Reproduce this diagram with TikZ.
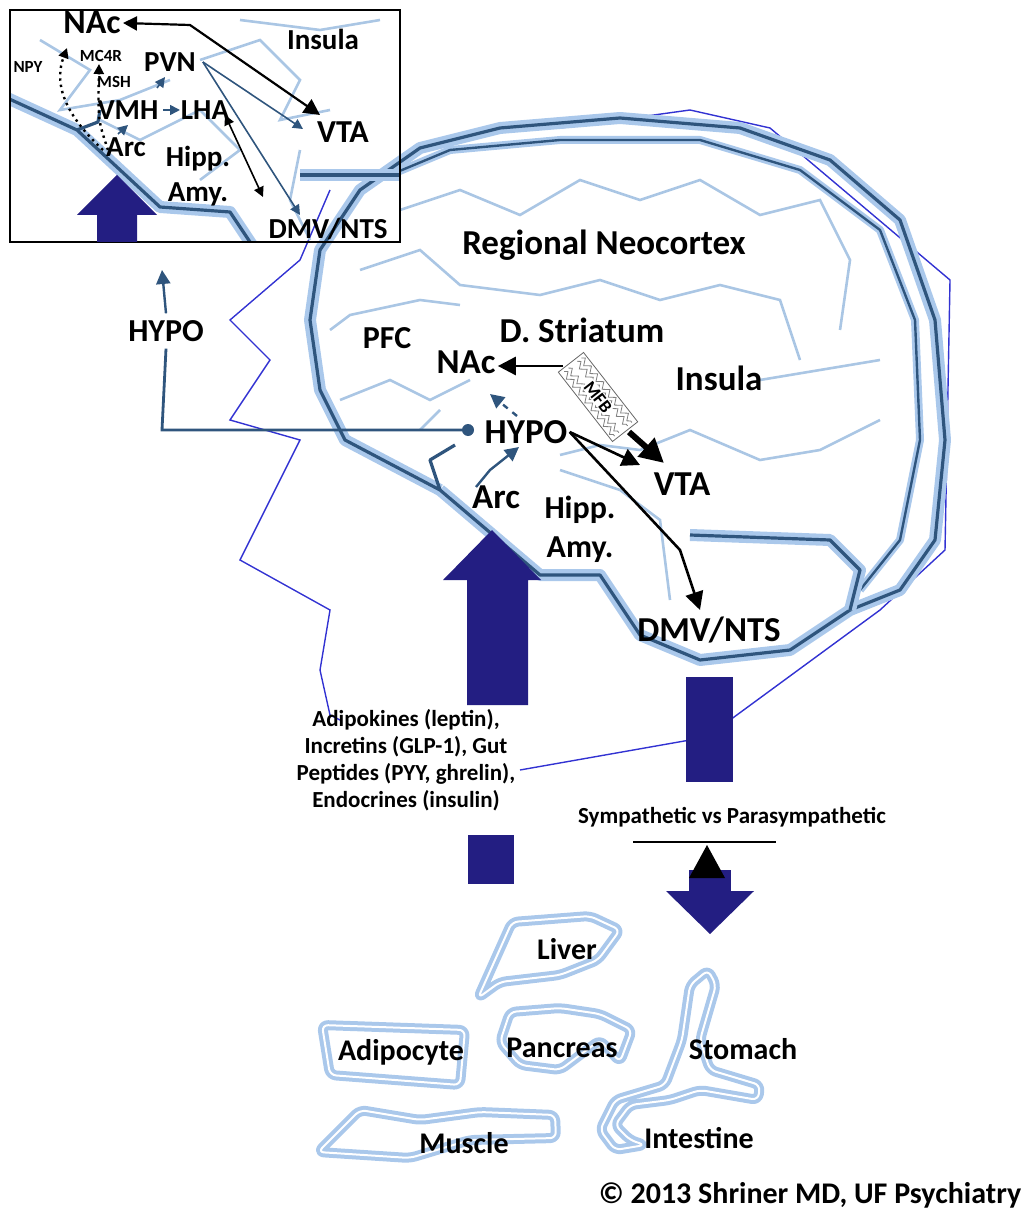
\documentclass[tikz,border=0pt]{standalone}
\usepackage{fontspec}
\setmainfont{Carlito}
\usetikzlibrary{arrows.meta,decorations.pathmorphing}
\definecolor{brain}{RGB}{47,85,125}
\definecolor{glow}{RGB}{170,200,235}
\definecolor{gyri}{RGB}{170,198,228}
\definecolor{navy}{RGB}{35,30,130}
\definecolor{face}{RGB}{50,50,210}
\begin{document}
\begin{tikzpicture}[x=0.5pt,y=-0.5pt,
  lbl/.style={font=\bfseries\fontsize{17.5}{19}\selectfont},
  mid/.style={font=\bfseries\fontsize{16}{17}\selectfont},
  org/.style={font=\bfseries\fontsize{15}{16}\selectfont},
  ins/.style={font=\bfseries\fontsize{14.5}{15}\selectfont},
  small/.style={font=\bfseries\fontsize{11.5}{13.5}\selectfont,align=center},
  tiny/.style={font=\bfseries\fontsize{8.5}{9}\selectfont},
  outline/.style={draw=glow,line width=6pt,line join=round},
  outcore/.style={draw=brain,line width=1.6pt,line join=round},
  gy/.style={draw=gyri,line width=1.3pt},
  organ/.style={draw=glow,line width=5pt,line join=round,rounded corners=3},
  organc/.style={draw=white,line width=1pt,line join=round,rounded corners=3},
  blk/.style={-{Triangle[length=9,width=9]},line width=1.4pt,black},
  bl/.style={-{Triangle[length=7,width=7]},line width=1.2pt,brain},
  big/.style={fill=navy,draw=none}]
\useasboundingbox (0,0) rectangle (1024,1219);
% face outline (thin)
\draw[face,line width=0.7pt] (330,190) -- (300,260) -- (230,320) -- (270,360) -- (230,420) -- (300,440) -- (240,560) -- (330,610) -- (320,670) -- (330,715) -- (340,720);
\draw[face,line width=0.7pt] (520,770) -- (690,740);
\draw[face,line width=0.7pt] (560,128) -- (690,110) -- (770,128) -- (950,280) -- (945,550) -- (880,610) -- (730,720);
% brain outer outline
\def\brainpath{(440,490) -- (540,575) -- (600,575) -- (640,635) -- (700,660) -- (790,650) -- (850,610) -- (900,590) -- (935,540) -- (945,440) -- (935,320) -- (900,220) -- (830,160) -- (740,128) -- (620,118) -- (500,128) -- (420,148) -- (360,190) -- (320,250) -- (310,320) -- (320,390) -- (345,440) -- (440,490)}
\draw[outline] \brainpath;
\draw[outcore] \brainpath;
% inner line of cortex
\draw[outline,line width=4pt] (390,175) -- (450,150) -- (560,140) -- (700,140) -- (800,170) -- (880,230) -- (915,320) -- (920,440) -- (900,540) -- (860,590);
\draw[outcore,line width=1.2pt] (390,175) -- (450,150) -- (560,140) -- (700,140) -- (800,170) -- (880,230) -- (915,320) -- (920,440) -- (900,540) -- (860,590);
% cerebellum line
\draw[outline] (690,535) -- (830,540) -- (860,570) -- (850,610);
\draw[outcore] (690,535) -- (830,540) -- (860,570) -- (850,610);
\draw[outcore] (455,445) -- (430,460) -- (440,490);
% gyri
\draw[gy] (400,210) -- (460,190) -- (520,215) -- (580,180) -- (640,200) -- (700,180) -- (760,215) -- (820,200) -- (850,260) -- (840,330);
\draw[gy] (360,270) -- (420,250) -- (460,285) -- (540,295) -- (600,280) -- (660,300) -- (720,285) -- (780,300) -- (800,360);
\draw[gy] (330,330) -- (350,315) -- (420,300) -- (460,305);
\draw[gy] (340,400) -- (390,380) -- (430,400) -- (470,380);
\draw[gy] (420,430) -- (440,410);
\draw[gy] (560,455) -- (600,445) -- (640,450) -- (690,430) -- (760,460) -- (820,450) -- (880,420);
\draw[gy] (560,470) -- (620,490) -- (660,520) -- (670,600);
\draw[gy] (760,380) -- (820,370) -- (880,360);
% inset box
\begin{scope}
\clip (10,10) rectangle (400,242);
\draw[gy] (40,40) -- (90,70) -- (60,110) -- (120,100) -- (170,80);
\draw[gy] (200,60) -- (260,40) -- (300,80) -- (280,120) -- (330,110);
\draw[gy] (100,120) -- (140,140) -- (200,110) -- (240,150) -- (200,180);
\draw[gy] (240,20) -- (320,30) -- (380,20);
\draw[gy] (300,150) -- (290,200) -- (310,240);
\draw[outline] (5,97) -- (77,130) -- (160,207) -- (230,212) -- (252,245);
\draw[outcore] (5,97) -- (77,130) -- (160,207) -- (230,212) -- (252,245);
\draw[outline] (300,175) -- (400,175);
\draw[outcore] (300,175) -- (400,175);
\draw[outcore] (77,130) -- (98,122) -- (100,110);
\end{scope}
\draw[black,line width=1pt] (10,10) rectangle (400,242);
\fill[big] (77,215) -- (117,175) -- (157,215) -- (137,215) -- (137,242) -- (97,242) -- (97,215) -- cycle;
% inset labels
\node[font=\bfseries\fontsize{17}{18}\selectfont,inner sep=1pt] (iNAc) at (92,23) {NAc};
\node[ins] (iIns) at (323,39) {Insula};
\node[tiny] (iNPY) at (28,67) {NPY};
\node[tiny] (iMC4R) at (101,56) {MC4R};
\node[tiny] (iMSH) at (114,82) {MSH};
\node[ins] (iPVN) at (170,62) {PVN};
\node[ins] (iVMH) at (128,110) {VMH};
\node[ins] (iLHA) at (205,110) {LHA};
\node[font=\bfseries\fontsize{16}{17}\selectfont] (iVTA) at (343,132) {VTA};
\node[ins] (iArc) at (126,147) {Arc};
\node[ins] (iHipp) at (198,159) {Hipp.};
\node[ins] (iAmy) at (198,194) {Amy.};
\node[ins] (iDMV) at (328,229) {DMV/NTS};
\coordinate (iNb) at (190,25);
\draw[line width=1.1pt,{Triangle[length=7,width=7]}-{Triangle[length=8,width=8]}] (iNAc.east) -- (iNb) -- (320,115);
\draw[brain,line width=0.8pt,-{Triangle[length=5,width=5]}] (iPVN.east) -- (303,129);
\draw[brain,line width=0.8pt,-{Triangle[length=5,width=5]}] (iPVN.east) -- (300,215);
\draw[line width=0.8pt,{Triangle[length=5,width=5]}-{Triangle[length=5,width=5]}] (225,115) -- (263,197);
\draw[brain,line width=0.8pt,-{Triangle[length=5,width=5]}] (157,88) -- (165,77);
\draw[brain,line width=0.8pt,-{Triangle[length=5,width=5]}] (163,110) -- (180,110);
\draw[brain,line width=0.8pt,-{Triangle[length=5,width=5]}] (118,134) -- (128,125);
\draw[line width=1.2pt,dotted,-{Triangle[length=5,width=5]}] (108,150) .. controls (98,120) .. (99,64);
\draw[line width=1.2pt,dotted,-{Triangle[length=5,width=5]}] (103,150) .. controls (60,110) and (55,80) .. (67,48);
% HYPO link
\node[mid] (hypoL) at (166,331) {HYPO};
\coordinate (hArrowTop) at (162,270);
\draw[bl] (hypoL.north) -- (hArrowTop);
\coordinate (hc) at (162,430);
% main labels
\node[lbl] (RN) at (604,245) {Regional Neocortex};
\node[mid] (PFC) at (387,338) {PFC};
\node[lbl] (DS) at (582,330) {D. Striatum};
\node[lbl,inner sep=1pt] (NAc) at (466,362) {NAc};
\node[lbl] (Ins) at (719,378) {Insula};
\node[lbl,inner sep=1pt] (HYPO) at (526,432) {HYPO};
\node[lbl] (VTA) at (682,484) {VTA};
\node[lbl] (Arc) at (496,497) {Arc};
\node[mid] (Hipp) at (580,510) {Hipp.};
\node[mid] (Amy) at (580,550) {Amy.};
\node[lbl] (DMV) at (709,630) {DMV/NTS};
\fill[brain] (468,430) circle (6);
\draw[brain,line width=1.4pt] (hypoL.south) -- (hc) -- (468,430);
% MFB
\begin{scope}[shift={(598,397)},rotate=-52]
\draw[black!60,fill=white] (-44,-16) rectangle (44,16);
\foreach \yy in {-11,-5.5,5.5,11}{\draw[gray,line width=0.4pt,decorate,decoration={zigzag,amplitude=1.5,segment length=5}] (-41,\yy) -- (41,\yy);}
\end{scope}
\node[rotate=-52,font=\bfseries\fontsize{9}{10}\selectfont,fill=white,inner sep=0.5pt] (MFB) at (598,397) {MFB};
\coordinate (mfbL) at (563,366);
\draw[blk] (mfbL) -- (NAc.east|-mfbL);
\draw[-{Triangle[length=12,width=12]},line width=3pt] (629,432) -- (664,463);
\draw[blk,line width=1.3pt] (HYPO.east) -- (640,465);
\draw[blk,line width=1.3pt] (HYPO.east) -- (680,550) -- (700,610);
\draw[bl] (476,487) -- (490,470) -- (519,447);
\draw[brain,line width=1.2pt,dashed,-{Triangle[length=7,width=7]}] (517,416) -- (490,394);
% big arrows
\fill[big] (443,580) -- (492,530) -- (541,580) -- (528,580) -- (528,705) -- (467,705) -- (467,580) -- cycle;
\fill[big] (468,835) rectangle (514,884);
\fill[big] (686,677) rectangle (733,782);
\fill[big] (666,891) -- (754,891) -- (710,934) -- cycle;
\fill[big] (689,870) rectangle (731,892);
\node[small] (sig) at (406,760) {Adipokines (leptin),\\Incretins (GLP-1), Gut\\Peptides (PYY, ghrelin),\\Endocrines (insulin)};
\node[small] (sym) at (732,817) {Sympathetic vs Parasympathetic};
\draw[black,line width=1pt] (633,842) -- (776,842);
\fill[black] (689,878) -- (707,845) -- (725,878) -- cycle;
% organs
\def\liver{(478,998) -- (512,922) -- (590,916) -- (620,930) -- (598,960) -- (560,975) -- (500,982) -- cycle}
\def\panc{(500,1042) -- (510,1012) -- (560,1008) -- (600,1014) -- (632,1030) -- (620,1062) -- (600,1040) -- (560,1070) -- (520,1065) -- cycle}
\def\adip{(322,1025) -- (465,1030) -- (460,1085) -- (330,1075) -- cycle}
\def\muscle{(318,1152) -- (360,1110) -- (420,1120) -- (480,1112) -- (555,1115) -- (556,1138) -- (470,1140) -- (410,1158) -- cycle}
\def\stom{(690,985) -- (708,970) -- (716,985) -- (700,1040) -- (710,1070) -- (760,1085) -- (758,1100) -- (700,1090) -- (670,1100) -- (630,1105) -- (615,1125) -- (630,1140) -- (645,1145) -- (615,1150) -- (600,1130) -- (615,1100) -- (665,1085) -- (682,1040) -- cycle}
\foreach \p in {\liver,\panc,\adip,\muscle,\stom}{\draw[organ] \p; \draw[organc] \p;}
\node[org] (Liver) at (567,949) {Liver};
\node[org] (Panc) at (562,1048) {Pancreas};
\node[org] (Adip) at (401,1052) {Adipocyte};
\node[org] (Musc) at (464,1143) {Muscle};
\node[org] (Stom) at (743,1049) {Stomach};
\node[org] (Int) at (699,1138) {Intestine};
\node[org] (copy) at (810,1195) {© 2013 Shriner MD, UF Psychiatry};
\end{tikzpicture}
\end{document}
